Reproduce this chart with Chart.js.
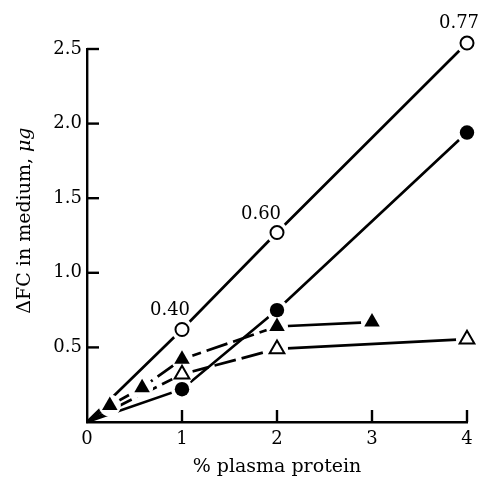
<!DOCTYPE html>
<html><head><meta charset="utf-8">
<script src="https://cdn.jsdelivr.net/npm/chart.js@4.4.1/dist/chart.umd.min.js"></script>
<style>html,body{margin:0;padding:0;background:#fff;}</style>
</head><body>
<canvas id="c" width="480" height="485"></canvas>
<script>
// ---- data ----
const xTicks = [0, 1, 2, 3, 4];
const yTicks = [0.5, 1.0, 1.5, 2.0, 2.5];
const xTitle = '% plasma protein';
const yTitleMain = 'ΔFC in medium, ';
const yTitleUnit = 'μg';

const openCircleX = [0, 1, 2, 4];
const openCircleY = [0, 0.62, 1.27, 2.54];
const openCircleLabels = ['', '0.40', '0.60', '0.77'];

const filledCircleX = [0, 1, 2, 4];
const filledCircleY = [0, 0.22, 0.75, 1.94];

const filledTriX = [0, 0.24, 0.58, 1, 2, 3];
const filledTriY = [0, 0.11, 0.23, 0.42, 0.64, 0.67];

const openTriX = [0, 1, 2, 4];
const openTriY = [0, 0.32, 0.49, 0.555];

const FONT = "'DejaVu Serif', 'Liberation Serif', serif";
const pts = (xs, ys) => xs.map((x, i) => ({x: x, y: ys[i]}));

const series = [
  {key: 'oc', data: pts(openCircleX, openCircleY), style: 'circle', r: 6.5, fill: '#fff', bw: 2, dashed: false},
  {key: 'fc', data: pts(filledCircleX, filledCircleY), style: 'circle', r: 7.2, fill: '#000', bw: 0, dashed: false},
  {key: 'ft', data: pts(filledTriX, filledTriY), style: 'triangle', r: 9, fill: '#000', bw: 0, dashed: true},
  {key: 'ot', data: pts(openTriX, openTriY), style: 'triangle', r: 8.5, fill: '#fff', bw: 2, dashed: true}
];

const datasets = [];
series.forEach((s, i) => {
  datasets.push({
    label: s.key + '-line', data: s.data, showLine: true, pointRadius: 0, pointHoverRadius: 0,
    borderColor: '#000', borderWidth: 2.7, order: 10 + i, clip: false,
    segment: { borderDash: ctx => (s.dashed && ctx.p1.parsed.x <= 2) ? [22, 6] : undefined }
  });
});
series.forEach((s, i) => {
  datasets.push({
    label: s.key, data: s.data, showLine: false, isMarker: true, halo: 11,
    pointStyle: s.style,
    pointRadius: ctx => ctx.dataIndex === 0 ? 0 : s.r,
    pointHoverRadius: ctx => ctx.dataIndex === 0 ? 0 : s.r,
    pointBackgroundColor: s.fill, pointBorderColor: '#000', pointBorderWidth: s.bw || 0.01,
    order: i, clip: false
  });
});

const haloPlugin = {
  id: 'halo',
  beforeDatasetsDraw(chart) { chart.$haloDone = false; },
  beforeDatasetDraw(chart, args) {
    const ds = chart.data.datasets[args.index];
    if (!ds.isMarker || chart.$haloDone) return;
    chart.$haloDone = true;
    const ctx = chart.ctx;
    ctx.save();
    ctx.fillStyle = '#fff';
    chart.data.datasets.forEach((d, i) => {
      if (!d.isMarker) return;
      chart.getDatasetMeta(i).data.forEach((p, j) => {
        if (j === 0) return;
        ctx.beginPath(); ctx.arc(p.x, p.y, d.halo, 0, Math.PI * 2); ctx.fill();
      });
    });
    ctx.restore();
  }
};

const decoPlugin = {
  id: 'deco',
  afterDraw(chart) {
    const ctx = chart.ctx;
    const xs = chart.scales.x, ys = chart.scales.y;
    const a = chart.chartArea;
    ctx.save();
    ctx.strokeStyle = '#000'; ctx.lineWidth = 2.4;
    // inward ticks
    xTicks.forEach(v => {
      if (v === 0) return;
      const px = xs.getPixelForValue(v);
      ctx.beginPath(); ctx.moveTo(px, a.bottom); ctx.lineTo(px, a.bottom - 12); ctx.stroke();
    });
    yTicks.forEach(v => {
      const py = ys.getPixelForValue(v);
      ctx.beginPath(); ctx.moveTo(a.left, py); ctx.lineTo(a.left + 12, py); ctx.stroke();
    });
    // y title (unit in italic)
    ctx.fillStyle = '#000';
    const fMain = '19px ' + FONT, fUnit = 'italic 19px ' + FONT;
    ctx.font = fMain; const w1 = ctx.measureText(yTitleMain).width;
    ctx.font = fUnit; const w2 = ctx.measureText(yTitleUnit).width;
    ctx.textAlign = 'left'; ctx.textBaseline = 'middle';
    ctx.translate(25, ys.getPixelForValue(1.35));
    ctx.rotate(-Math.PI / 2);
    const start = -(w1 + w2) / 2;
    ctx.font = fMain; ctx.fillText(yTitleMain, start, 0);
    ctx.font = fUnit; ctx.fillText(yTitleUnit, start + w1, 0);
    ctx.restore();
    // point labels
    ctx.save();
    ctx.fillStyle = '#000';
    ctx.font = '18px ' + FONT;
    ctx.textAlign = 'center'; ctx.textBaseline = 'middle';
    const offs = [null, [-12, -19], [-16, -18], [-8, -20]];
    openCircleLabels.forEach((t, i) => {
      if (!t) return;
      const px = xs.getPixelForValue(openCircleX[i]);
      const py = ys.getPixelForValue(openCircleY[i]);
      ctx.fillText(t, px + offs[i][0], py + offs[i][1]);
    });
    ctx.restore();
  }
};

new Chart(document.getElementById('c'), {
  type: 'scatter',
  data: { datasets: datasets },
  plugins: [haloPlugin, decoPlugin],
  options: {
    responsive: false, animation: false, devicePixelRatio: 1,
    layout: { padding: { left: 0, right: 13, top: 49, bottom: 0 } },
    plugins: { legend: { display: false }, tooltip: { enabled: false } },
    scales: {
      x: {
        type: 'linear', min: 0, max: 4,
        afterBuildTicks: s => { s.ticks = xTicks.map(v => ({value: v})); },
        ticks: { color: '#000', font: { family: FONT, size: 18 }, padding: 7, callback: v => String(v), maxRotation: 0 },
        grid: { display: false, drawTicks: false },
        border: { display: true, color: '#000', width: 2.4 },
        title: { display: true, text: xTitle, color: '#000', font: { family: FONT, size: 19 }, padding: { top: 0, bottom: 7 } },
        afterFit: s => { s.height = 63; }
      },
      y: {
        type: 'linear', min: 0, max: 2.5,
        afterBuildTicks: s => { s.ticks = yTicks.map(v => ({value: v})); },
        ticks: { color: '#000', font: { family: FONT, size: 18 }, padding: 5, callback: v => Number(v).toFixed(1) },
        grid: { display: false, drawTicks: false },
        border: { display: true, color: '#000', width: 2.4 },
        afterFit: s => { s.width = 87; }
      }
    }
  }
});
</script>
</body></html>
